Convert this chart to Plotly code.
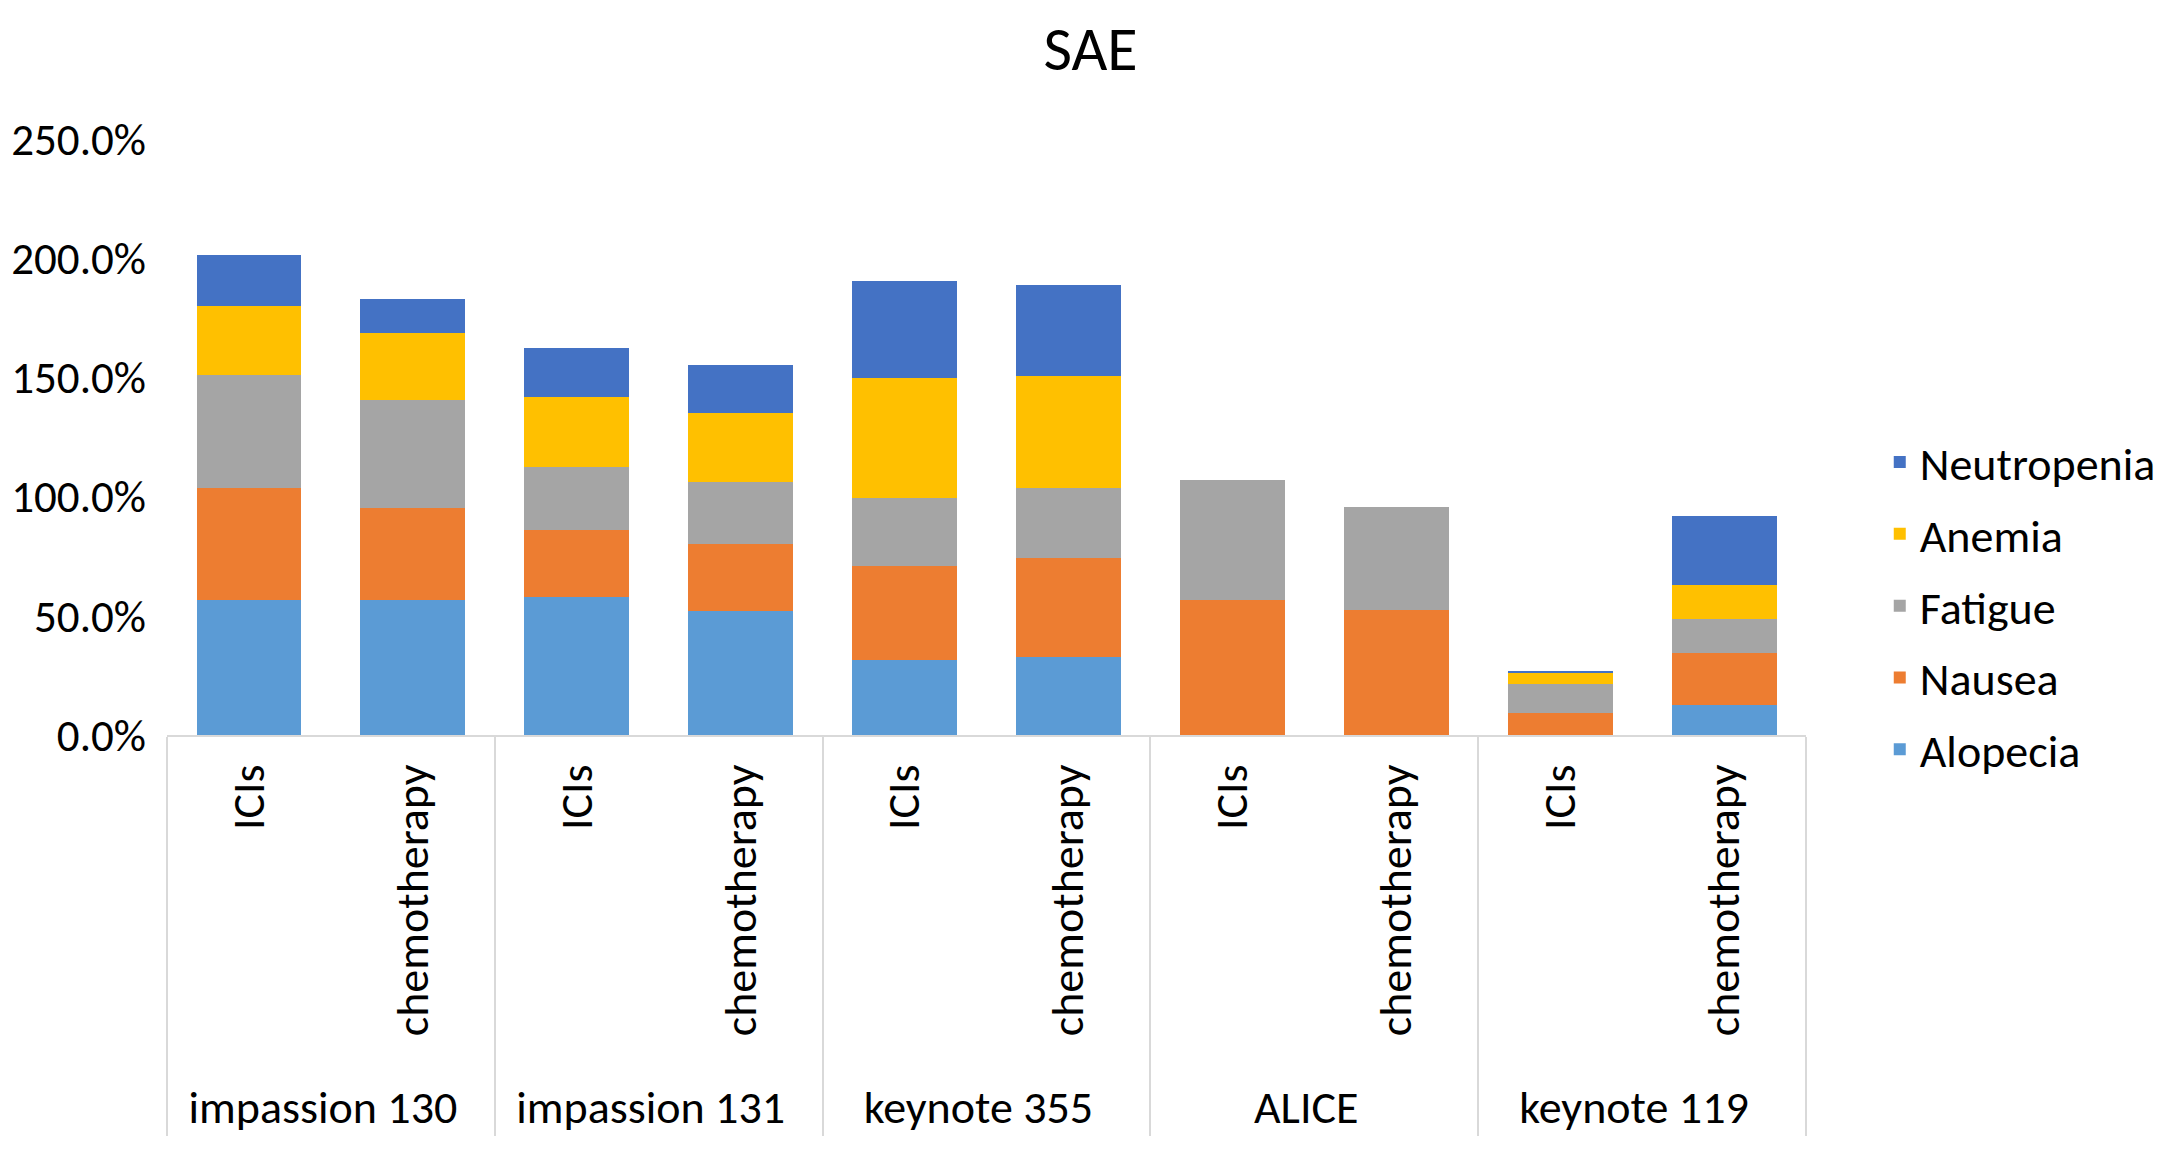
import plotly.graph_objects as go

# trials and arms (multicategory x axis)
trials = ["impassion 130", "impassion 131", "keynote 355", "ALICE", "keynote 119"]
arms = ["ICIs", "\u00a0chemotherapy"]

# SAE rates in %, one value per bar (trial x arm)
alopecia = [56.7, 56.7, 58.0, 52.2, 31.6, 32.7, 0, 0, 0, 12.4]
nausea = [46.8, 38.4, 27.8, 28.1, 39.4, 41.5, 56.6, 52.4, 9.2, 21.8]
fatigue = [47.6, 45.6, 26.7, 25.7, 28.5, 29.6, 50.4, 43.2, 12.4, 14.3]
anemia = [29.0, 27.8, 29.2, 29.0, 50.1, 46.8, 0, 0, 4.2, 14.5]
neutropenia = [21.4, 14.2, 20.5, 20.4, 41.0, 38.0, 0, 0, 1.2, 28.8]

series = [
    ("Alopecia", alopecia, "#5B9BD5"),
    ("Nausea", nausea, "#ED7D31"),
    ("Fatigue", fatigue, "#A5A5A5"),
    ("Anemia", anemia, "#FFC000"),
    ("Neutropenia", neutropenia, "#4472C4"),
]

x_outer = [t for t in trials for _ in arms]
x_inner = [a for _ in trials for a in arms]

font = "Calibri, Carlito, Lato, sans-serif"

fig = go.Figure()
for i, (name, vals, col) in enumerate(series):
  fig.add_trace(go.Bar(
      x=[x_outer, x_inner],
      y=vals,
      name=name,
      legendgroup=name,
      legendrank=len(series) - i,   # Neutropenia on top, like Excel
      marker=dict(color=col, line=dict(width=0)),
  ))

fig.update_layout(
    width=2165, height=1152,
    barmode="stack",
    bargap=0.36,
    plot_bgcolor="white",
    paper_bgcolor="white",
    font=dict(family=font, size=46, color="#000000"),
    title=dict(text="SAE", x=0.5, xanchor="center", y=0.965, yanchor="middle",
               font=dict(family=font, size=62, color="#000000")),
    margin=dict(l=159, r=363, t=131, b=425),
    legend=dict(x=1.045, xanchor="left", y=0.217, yanchor="middle",
                traceorder="grouped", tracegroupgap=9,
                font=dict(family=font, size=46)),
)
fig.update_yaxes(range=[0, 250], dtick=50, tickformat=".1f", ticksuffix="%",
                 showgrid=False, zeroline=False, showline=False,
                 tickfont=dict(size=45), ticklabelstandoff=20, automargin=False)
fig.update_xaxes(type="multicategory", tickangle=-90,
                 showline=True, linecolor="#D9D9D9", linewidth=2,
                 showdividers=True, dividercolor="#D9D9D9", dividerwidth=2,
                 ticklabelstandoff=9, showgrid=False, automargin=False)

fig.write_html("out.html")
